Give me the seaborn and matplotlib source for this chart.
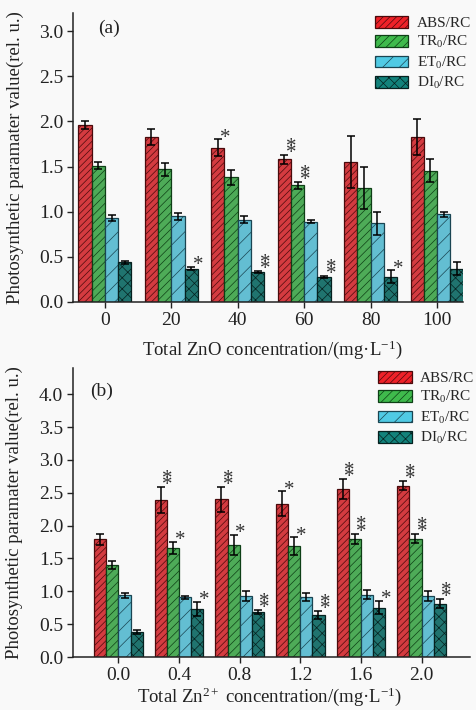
import numpy as np
import pandas as pd
import matplotlib
matplotlib.use("Agg")
import matplotlib.pyplot as plt
import seaborn as sns
from matplotlib.patches import Patch
from matplotlib.container import BarContainer

# ---------------- data ----------------
params = ["ABS/RC", "TR$_0$/RC", "ET$_0$/RC", "DI$_0$/RC"]

zno_conc = ["0", "20", "40", "60", "80", "100"]
zno_abs = [1.96, 1.83, 1.71, 1.58, 1.55, 1.83]
zno_abs_err = [0.045, 0.09, 0.09, 0.05, 0.29, 0.20]
zno_tr = [1.51, 1.47, 1.38, 1.29, 1.26, 1.455]
zno_tr_err = [0.04, 0.07, 0.08, 0.04, 0.23, 0.13]
zno_et = [0.93, 0.95, 0.91, 0.89, 0.87, 0.97]
zno_et_err = [0.03, 0.04, 0.04, 0.02, 0.13, 0.03]
zno_di = [0.44, 0.37, 0.33, 0.28, 0.28, 0.37]
zno_di_err = [0.015, 0.015, 0.01, 0.01, 0.07, 0.07]
zno_sig_abs = ["", "", "*", "**", "", ""]
zno_sig_tr = ["", "", "", "**", "", ""]
zno_sig_et = ["", "", "", "", "", ""]
zno_sig_di = ["", "*", "**", "**", "*", ""]

zn_conc = ["0.0", "0.4", "0.8", "1.2", "1.6", "2.0"]
zn_abs = [1.79, 2.39, 2.40, 2.33, 2.56, 2.61]
zn_abs_err = [0.09, 0.20, 0.19, 0.19, 0.15, 0.07]
zn_tr = [1.40, 1.66, 1.71, 1.69, 1.80, 1.80]
zn_tr_err = [0.06, 0.09, 0.15, 0.13, 0.08, 0.07]
zn_et = [0.94, 0.91, 0.93, 0.92, 0.95, 0.93]
zn_et_err = [0.04, 0.02, 0.08, 0.06, 0.07, 0.07]
zn_di = [0.38, 0.73, 0.69, 0.64, 0.75, 0.81]
zn_di_err = [0.03, 0.11, 0.03, 0.06, 0.10, 0.07]
zn_sig_abs = ["", "**", "**", "*", "**", "**"]
zn_sig_tr = ["", "*", "*", "*", "**", "**"]
zn_sig_et = ["", "", "", "", "", ""]
zn_sig_di = ["", "*", "**", "**", "*", "**"]

# ---------------- style ----------------
sns.set_theme(style="white")
plt.rcParams["font.family"] = ["Liberation Serif", "DejaVu Serif"]
plt.rcParams["mathtext.fontset"] = "custom"
plt.rcParams["mathtext.rm"] = "Liberation Serif"
plt.rcParams["mathtext.it"] = "Liberation Serif:italic"
plt.rcParams["mathtext.default"] = "regular"
plt.rcParams["hatch.linewidth"] = 0.5

BG = "#f9f9f9"
colors = ["#ee2128", "#3fba4c", "#50cae4", "#12827b"]
edges = ["#4a0a0c", "#0e3f16", "#1a4552", "#05211f"]
hatches = ["/////", "////", "//", "xxx"]


def long_df(conc, vals, errs):
    rows = []
    for p, v, e in zip(params, vals, errs):
        for c, vv, ee in zip(conc, v, e):
            rows.append({"conc": c, "param": p, "value": vv, "err": ee})
    return pd.DataFrame(rows)


def draw_panel(ax, conc, vals, errs, sigs, ylim, yticks, xlim, xlabel, tag, tagpos, legpos):
    df = long_df(conc, vals, errs)
    sns.barplot(data=df, x="conc", y="value", hue="param", order=conc,
                hue_order=params, palette=colors, width=0.8, errorbar=None,
                edgecolor="#222222", linewidth=0.9, legend=False, ax=ax)
    bar_conts = [c for c in ax.containers if isinstance(c, BarContainer)]
    for i, cont in enumerate(bar_conts):
        xs, ys = [], []
        for j, bar in enumerate(cont.patches):
            bar.set_hatch(hatches[i])
            bar.set_edgecolor(edges[i])
            xc = bar.get_x() + bar.get_width() / 2
            xs.append(xc)
            ys.append(bar.get_height())
            top = bar.get_height() + errs[i][j]
            s = sigs[i][j]
            xr = bar.get_x() + bar.get_width()
            for k in range(len(s)):
                ax.annotate("*", xy=(xr, top), xytext=(0.5, -2.3 + 4.5 * k),
                            textcoords="offset points", ha="center", va="baseline",
                            fontsize=15, color="#333333")
        ax.errorbar(xs, ys, yerr=errs[i], fmt="none", ecolor="black",
                    elinewidth=1.1, capsize=3, capthick=1.1, zorder=5)

    ax.set_ylim(*ylim)
    ax.set_yticks(yticks)
    ax.set_yticklabels([f"{t:.1f}" for t in yticks])
    ax.set_xlim(*xlim)
    ax.set_facecolor(BG)
    sns.despine(ax=ax)
    for sp in ["left", "bottom"]:
        ax.spines[sp].set_color("#222222")
        ax.spines[sp].set_linewidth(1.1)
    ax.tick_params(axis="both", direction="out", length=4, width=1.0,
                   colors="#222222", labelsize=14, pad=3, left=True, bottom=True)
    ax.set_xlabel(xlabel, fontsize=13.5, color="#222222")
    ax.set_ylabel("Photosynthetic paramater value(rel. u.)", fontsize=13.5, color="#222222")
    ax.yaxis.set_label_coords(-0.125, 0.5)
    ax.text(tagpos[0], tagpos[1], tag, transform=ax.transAxes, fontsize=14,
            ha="left", va="center", color="#222222")
    handles = [Patch(facecolor=colors[i], edgecolor=edges[i], hatch=hatches[i],
                     linewidth=0.9, label=params[i]) for i in range(4)]
    ax.legend(handles=handles, loc="upper left", bbox_to_anchor=legpos,
              frameon=False, fontsize=11, handlelength=2.2, handleheight=0.8,
              handletextpad=0.55, labelspacing=0.28, borderpad=0, borderaxespad=0)


fig = plt.figure(figsize=(4.76, 7.10), dpi=100)
fig.patch.set_facecolor(BG)

W, H = 476.0, 710.0
ax1 = fig.add_axes([73 / W, 1 - 302 / H, (463 - 73) / W, (302 - 13) / H])
ax2 = fig.add_axes([73 / W, 1 - 657 / H, (470 - 73) / W, (657 - 368) / H])

draw_panel(ax1, zno_conc,
           [zno_abs, zno_tr, zno_et, zno_di],
           [zno_abs_err, zno_tr_err, zno_et_err, zno_di_err],
           [zno_sig_abs, zno_sig_tr, zno_sig_et, zno_sig_di],
           (0, 3.2), [0.0, 0.5, 1.0, 1.5, 2.0, 2.5, 3.0], (-0.48, 5.39),
           "Total ZnO concentration/(mg·L$^{-1}$)", "(a)", (0.064, 0.948),
           (0.774, 0.99))
ax1.xaxis.set_label_coords(0.51, -0.125)

draw_panel(ax2, zn_conc,
           [zn_abs, zn_tr, zn_et, zn_di],
           [zn_abs_err, zn_tr_err, zn_et_err, zn_di_err],
           [zn_sig_abs, zn_sig_tr, zn_sig_et, zn_sig_di],
           (0, 4.4), [0.0, 0.5, 1.0, 1.5, 2.0, 2.5, 3.0, 3.5, 4.0], (-0.75, 5.8),
           "Total Zn$^{2+}$ concentration/(mg·L$^{-1}$)", "(b)", (0.043, 0.92),
           (0.768, 0.99))
ax2.xaxis.set_label_coords(0.496, -0.1)

fig.savefig("out.png", dpi=100, facecolor=BG)
